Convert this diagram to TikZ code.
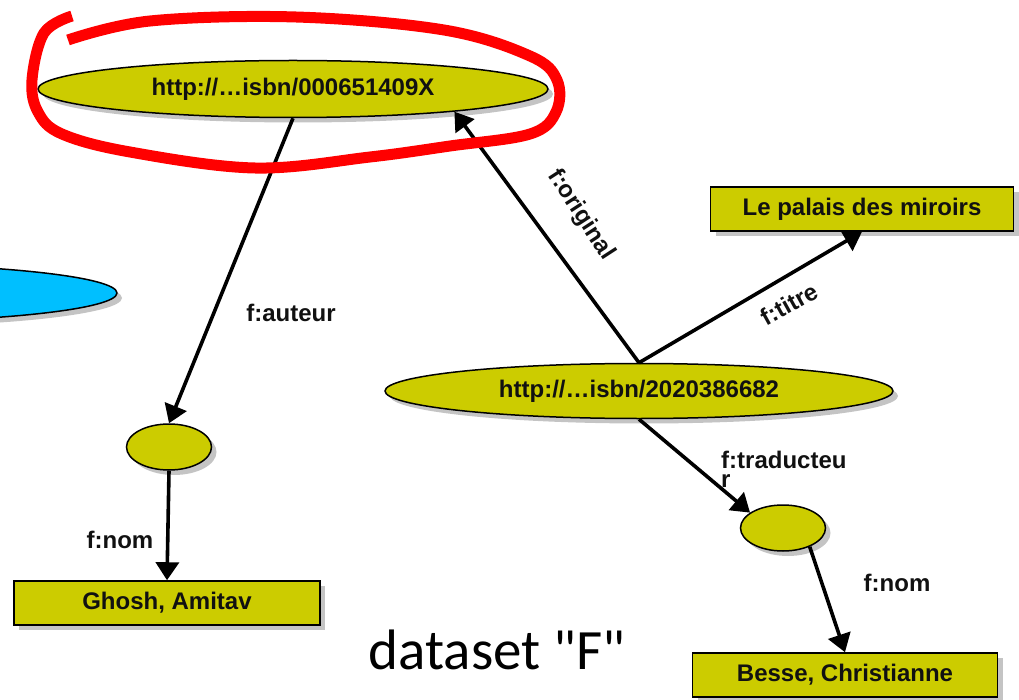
\documentclass[tikz,border=0pt]{standalone}
\usepackage{fontspec}
\setsansfont{Liberation Sans}
\newfontfamily\calibrifont{Carlito}
\usepackage{tikz}
\usetikzlibrary{arrows.meta,shapes.geometric,shadows}
\definecolor{nodefill}{HTML}{CCCC00}
\definecolor{sky}{HTML}{00BFFF}
\definecolor{marker}{HTML}{FF0000}
\definecolor{shade}{HTML}{C4C4C4}
\definecolor{ink}{HTML}{111111}
\tikzset{
  font=\sffamily\bfseries\fontsize{24}{27}\selectfont,
  boxshadow/.style={drop shadow={shadow xshift=5pt, shadow yshift=-5pt, fill=shade, opacity=1}},
  resource/.style={
    ellipse, draw=black, line width=1.5pt, fill=nodefill, text=ink,
    inner sep=0pt, boxshadow
  },
  blank/.style={resource, minimum width=85pt, minimum height=46pt},
  literal/.style={
    rectangle, draw=black, line width=1.5pt, fill=nodefill, text=ink,
    inner sep=0pt, minimum height=44pt, boxshadow
  },
  prop/.style={-{Triangle[length=18pt,width=23pt]}, draw=black, line width=3.6pt},
  proplabel/.style={text=ink, inner sep=1pt},
  redloop/.style={draw=marker, line width=11pt, line cap=butt, line join=round}
}
\begin{document}
\begin{tikzpicture}[x=1pt,y=-1pt]
  \useasboundingbox (0,0) rectangle (1019,700);

  \node[resource, fill=sky, minimum width=524pt, minimum height=58pt] (other) at (-145,293) {};

  \node[resource, minimum width=510pt, minimum height=57pt] (isbnA) at (293,89) {http://\ldots isbn/000651409X};
  \node[resource, minimum width=508pt, minimum height=55pt] (isbnF) at (639,391) {http://\ldots isbn/2020386682};
  \node[blank] (b1) at (169,447) {};
  \node[blank] (b2) at (783,528) {};
  \node[literal, minimum width=303pt] (palais) at (862,209) {Le palais des miroirs};
  \node[literal, minimum width=306pt] (ghosh) at (167,603) {Ghosh, Amitav};
  \node[literal, minimum width=305pt] (besse) at (845,675) {Besse, Christianne};

  \draw[prop] (isbnA.south) -- (b1.north);
  \draw[prop] (b1.south) -- (ghosh.north);
  \draw[prop] (isbnF.north) -- (isbnA.-8);
  \draw[prop] (isbnF.north) -- (palais.south);
  \draw[prop] (isbnF.south) -- (b2.155);
  \draw[prop] (b2.-35) -- (besse.north);

  \node[proplabel] (lauteur) at (291,313) {f:auteur};
  \node[proplabel] (lnom1) at (120,540) {f:nom};
  \node[proplabel, rotate=-57] (loriginal) at (581,215) {f:original};
  \node[proplabel, rotate=29] (ltitre) at (789,304) {f:titre};
  \node[proplabel, align=left, anchor=north west, font=\sffamily\bfseries\fontsize{24}{19}\selectfont] (ltrad) at (720,450) {f:traducteu\\r};
  \node[proplabel] (lnom2) at (897,583) {f:nom};

  \node[inner sep=0pt, font=\calibrifont\fontsize{57}{60}\selectfont] (dataset) at (497,650) {dataset "F"};

  \draw[redloop] plot[smooth, tension=0.6] coordinates {(72,16) (44,33) (32,80) (38,112) (62,134) (130,152) (255,168) (370,157) (450,146) (530,134) (556,112) (557,80) (530,56) (444,30) (296,17) (150,21) (68,40)};
\end{tikzpicture}
\end{document}
